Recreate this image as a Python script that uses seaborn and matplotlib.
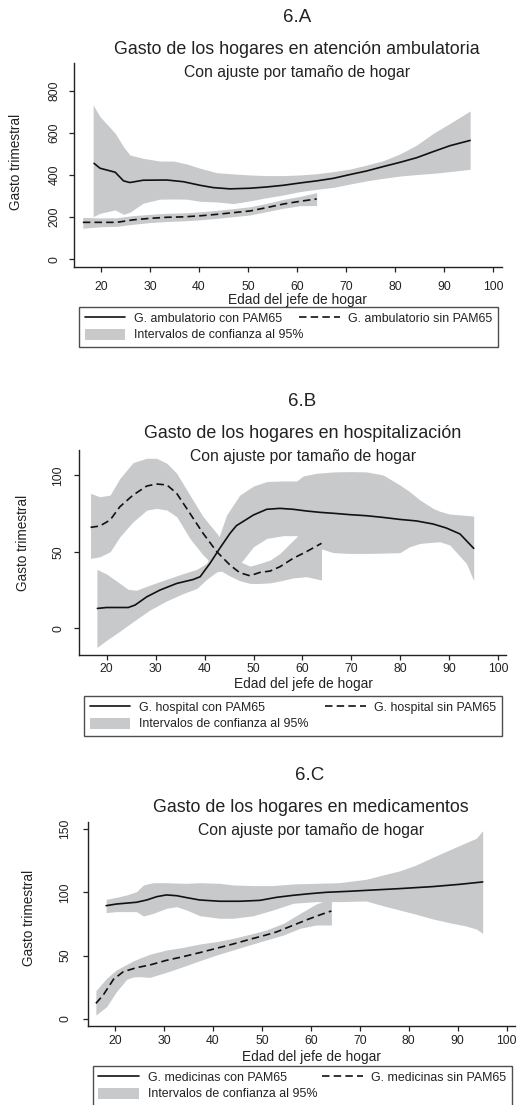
import numpy as np
import matplotlib
matplotlib.use("Agg")
import matplotlib.pyplot as plt
import seaborn as sns
from matplotlib.lines import Line2D
from matplotlib.patches import Patch

sns.set_style("ticks")
plt.rcParams['font.family'] = ['Liberation Sans', 'DejaVu Sans']

# ---------------- Panel A: ambulatoria ----------------
a_con_x = [18.6, 19.8, 22.9, 24.6, 25.9, 28.6, 33.4, 36.8, 40.2, 42.9, 46.3, 50.4, 53.8, 57.2,
           60.6, 64.0, 67.4, 70.8, 74.2, 77.6, 81.0, 84.4, 87.8, 91.2, 95.3]
a_con_y = [455, 432, 413, 372, 364, 375, 376, 368, 351, 340, 334, 337, 343, 351,
           362, 372, 384, 402, 419, 440, 460, 482, 511, 539, 564]
a_con_ci_x = [18.4, 19.8, 22.9, 24.6, 25.9, 28.6, 32.0, 34.8, 37.5, 40.2, 43.6, 47.0, 50.4, 53.8,
              57.2, 60.6, 64.0, 67.4, 70.8, 74.2, 77.6, 81.0, 84.4, 87.8, 91.2, 95.3]
a_con_hi = [732, 677, 598, 534, 495, 479, 466, 466, 452, 432, 411, 405, 400, 397,
            397, 400, 406, 416, 428, 447, 468, 500, 542, 598, 645, 704]
a_con_lo = [202, 218, 234, 213, 223, 266, 285, 286, 285, 275, 272, 264, 277, 292,
            305, 321, 332, 341, 357, 372, 384, 395, 402, 408, 416, 427]
a_sin_x = [16.3, 19.8, 23.2, 26.6, 30.0, 33.4, 36.8, 40.2, 43.6, 47.0, 50.4, 53.8, 57.2, 60.6, 64.0]
a_sin_y = [175, 175, 175, 187, 194, 199, 201, 206, 213, 221, 229, 245, 262, 275, 286]
a_sin_hi = [199, 196, 197, 207, 213, 218, 220, 225, 232, 240, 249, 265, 284, 298, 316]
a_sin_lo = [147, 154, 156, 166, 174, 179, 182, 187, 194, 202, 210, 226, 242, 254, 255]

# ---------------- Panel B: hospitalización ----------------
b_con_x = [18.1, 20.0, 24.4, 25.8, 28.2, 30.9, 34.3, 37.7, 39.1, 41.1, 43.1, 45.2, 46.5, 50.0,
           52.7, 55.4, 58.1, 60.8, 63.6, 66.3, 69.7, 73.1, 76.5, 79.9, 83.3, 86.7, 89.4, 92.2, 95.0]
b_con_y = [13.1, 13.7, 13.7, 15.3, 20.7, 25.1, 29.4, 32.0, 33.8, 42.5, 52.3, 62.1, 67.1, 74.1,
           77.8, 78.4, 77.8, 76.7, 75.8, 75.2, 74.3, 73.6, 72.5, 71.2, 70.2, 68.2, 65.6, 61.7, 52.3]
b_con_ci_x = [18.0, 20.0, 22.0, 24.4, 26.1, 28.8, 32.3, 35.7, 38.4, 40.4, 42.5, 44.5, 47.2, 50.0,
              52.7, 56.1, 58.8, 60.2, 62.9, 66.3, 69.7, 73.1, 76.5, 79.9, 81.9, 84.0, 86.7,
              88.1, 90.1, 93.5, 95.0]
b_con_hi = [38.6, 35.5, 31.0, 25.5, 25.0, 28.3, 32.2, 35.9, 38.6, 42.5, 55.6, 74.1, 87.1, 93.0,
            95.9, 96.3, 96.3, 99.6, 101.3, 102.2, 102.4, 102.2, 100.2, 93.7, 89.3, 83.9, 78.4,
            76.5, 74.7, 73.8, 73.4]
b_con_lo = [-12.4, -7.6, -3.3, 2.2, 6.0, 12.0, 18.1, 22.9, 26.1, 32.0, 37.0, 38.1, 42.0, 53.4,
            58.8, 60.6, 60.6, 58.0, 53.0, 49.5, 49.0, 49.0, 49.2, 49.5, 53.4, 55.5, 56.3,
            56.6, 54.5, 42.5, 31.2]
b_sin_x = [16.7, 18.6, 20.7, 22.7, 25.4, 28.2, 30.2, 32.3, 34.3, 37.0, 39.7, 42.5, 45.2, 47.2,
           49.3, 51.3, 53.4, 55.4, 58.1, 60.8, 63.9]
b_sin_y = [66.0, 66.9, 70.8, 79.5, 87.1, 93.0, 94.3, 93.7, 88.2, 75.2, 62.1, 50.1, 41.4, 36.4,
           34.4, 36.6, 37.5, 40.3, 45.8, 50.1, 55.6]
b_sin_hi = [88.2, 86.0, 87.1, 98.0, 108.3, 111.1, 111.1, 107.8, 101.3, 87.1, 73.0, 62.1, 50.1, 43.6,
            40.7, 42.5, 44.7, 49.0, 57.5, 66.0, 78.4]
b_sin_lo = [45.8, 46.8, 50.1, 59.9, 69.7, 77.3, 78.4, 77.3, 73.0, 58.8, 47.9, 39.2, 34.2, 31.2,
            29.4, 29.4, 29.8, 31.0, 33.0, 33.8, 31.6]

# ---------------- Panel C: medicamentos ----------------
c_con_x = [18.2, 20.3, 24.4, 26.5, 28.5, 30.5, 32.6, 34.6, 37.3, 41.4, 45.5, 49.6, 53.0, 56.4,
           59.8, 63.2, 67.9, 72.7, 78.1, 84.9, 90.4, 95.1]
c_con_y = [89.5, 90.8, 92.2, 94.0, 96.6, 98.0, 97.4, 95.9, 94.0, 93.0, 93.0, 93.7, 96.1, 97.7,
           99.0, 100.1, 100.9, 101.9, 103.0, 104.6, 106.4, 108.3]
c_con_ci_x = [18.2, 20.3, 22.4, 24.4, 25.8, 27.8, 30.5, 32.6, 34.6, 37.3, 41.4, 44.1, 48.2, 52.2,
              56.4, 61.1, 65.8, 71.3, 74.7, 78.1, 81.5, 84.9, 88.3, 91.7, 93.8, 95.1]
c_con_hi = [94.5, 96.1, 98.0, 100.6, 105.9, 107.7, 107.7, 107.4, 107.2, 107.7, 107.2, 105.9, 105.4,
            105.4, 106.7, 107.2, 107.7, 110.4, 113.8, 117.0, 121.7, 127.8, 133.6, 139.4, 142.9, 148.9]
c_con_lo = [84.0, 84.8, 84.8, 84.8, 81.3, 83.4, 87.4, 88.7, 86.1, 81.6, 79.5, 79.5, 81.5, 86.0,
            91.4, 92.7, 92.7, 93.2, 89.5, 86.1, 82.7, 79.0, 76.0, 73.4, 71.0, 67.6]
c_sin_x = [16.1, 17.6, 19.7, 21.7, 24.4, 27.1, 30.5, 33.9, 37.3, 40.7, 44.1, 47.5, 50.9, 53.0,
           55.7, 59.1, 61.8, 64.2]
c_sin_y = [12.1, 18.7, 31.2, 37.2, 40.4, 42.5, 46.2, 49.1, 52.3, 55.7, 59.1, 62.8, 66.3, 68.7,
           72.9, 78.2, 82.1, 85.3]
c_sin_ci_x = [16.1, 18.3, 20.3, 22.4, 23.7, 25.1, 27.1, 30.5, 33.9, 37.3, 40.7, 44.1, 47.5, 50.9,
              54.4, 57.8, 61.1, 64.2]
c_sin_hi = [22.2, 32.0, 38.6, 43.0, 45.7, 48.0, 51.0, 54.4, 56.5, 59.1, 61.0, 63.6, 66.8, 70.2,
            75.5, 83.4, 90.8, 95.3]
c_sin_lo = [2.9, 9.5, 21.4, 31.2, 33.0, 33.3, 32.7, 36.7, 41.2, 45.9, 50.4, 54.4, 58.4, 62.3,
            66.3, 71.6, 74.2, 74.2]

x_ticks = [20, 30, 40, 50, 60, 70, 80, 90, 100]

W, H = 518, 1105
fig = plt.figure(figsize=(W / 100, H / 100), dpi=100)

FILL = '#c8c9cb'
TXT = '#222222'
DASH = (0, (4.5, 2.5))


def add_ax(left, top, right, bottom):
    return fig.add_axes([left / W, 1 - bottom / H, (right - left) / W, (bottom - top) / H])


def ftext(x, y, s, size, **kw):
    fig.text(x / W, 1 - y / H, s, ha='center', va='center', fontsize=size, color=TXT, **kw)


def style_ax(ax, xlim, ylim, yticks, xpad, ypad):
    ax.set_xlim(*xlim)
    ax.set_ylim(*ylim)
    ax.set_xticks(x_ticks)
    ax.set_yticks(yticks)
    sns.despine(ax=ax)
    for sp in ['left', 'bottom']:
        ax.spines[sp].set_color('#222222')
        ax.spines[sp].set_linewidth(1.0)
    ax.tick_params(axis='both', length=3.8, width=0.9, color='#222222', labelsize=8.8,
                   labelcolor=TXT, direction='out')
    ax.tick_params(axis='x', pad=xpad)
    ax.tick_params(axis='y', pad=ypad)
    for lab in ax.get_yticklabels():
        lab.set_rotation(90)
        lab.set_va('center')
        lab.set_ha('right')
    ax.set_xlabel('')
    ax.set_ylabel('')
    ax.grid(False)


def draw_panel(ax, con_x, con_y, ci_x, ci_lo, ci_hi, sin_x, sin_y, sin_ci_x, sin_lo, sin_hi):
    ax.fill_between(ci_x, ci_lo, ci_hi, color=FILL, lw=0, zorder=1)
    ax.fill_between(sin_ci_x, sin_lo, sin_hi, color=FILL, lw=0, zorder=1)
    sns.lineplot(x=con_x, y=con_y, ax=ax, color='#111111', lw=1.2, zorder=3)
    sns.lineplot(x=sin_x, y=sin_y, ax=ax, color='#111111', lw=1.2, zorder=3, linestyle=DASH)


def add_legend(left, top, right, bottom, lab_con, lab_sin):
    handles = [Line2D([], [], color='#111111', lw=1.2),
               Patch(facecolor=FILL, edgecolor='none'),
               Line2D([], [], color='#111111', lw=1.2, linestyle=DASH)]
    labels = [lab_con, 'Intervalos de confianza al 95%', lab_sin]
    leg = fig.legend(handles, labels, loc='upper left', ncol=2, mode='expand',
                     bbox_to_anchor=(left / W, 1 - bottom / H, (right - left) / W, (bottom - top) / H),
                     borderaxespad=0, frameon=True, fancybox=False, fontsize=8.9,
                     handlelength=3.3, handleheight=0.95, handletextpad=0.7,
                     labelspacing=0.3, borderpad=0.45, columnspacing=1.0)
    fr = leg.get_frame()
    fr.set_edgecolor('#222222')
    fr.set_linewidth(1.0)
    for t in leg.get_texts():
        t.set_color(TXT)


# Panel A
axA = add_ax(74, 62.7, 502, 267)
draw_panel(axA, a_con_x, a_con_y, a_con_ci_x, a_con_lo, a_con_hi,
           a_sin_x, a_sin_y, a_sin_x, a_sin_lo, a_sin_hi)
style_ax(axA, (14.5, 101.8), (-37, 933), [0, 200, 400, 600, 800], xpad=6.5, ypad=6)
ftext(297, 18, '6.A', 13.5)
ftext(297, 50, 'Gasto de los hogares en atención ambulatoria', 12.9)
ftext(297, 73, 'Con ajuste por tamaño de hogar', 11.3)
ftext(297, 300, 'Edad del jefe de hogar', 9.9)
ftext(16, 162, 'Gasto trimestral', 9.8, rotation=90)
add_legend(79, 307, 498, 348, 'G. ambulatorio con PAM65', 'G. ambulatorio sin PAM65')

# Panel B
axB = add_ax(79.3, 450, 506, 655)
draw_panel(axB, b_con_x, b_con_y, b_con_ci_x, b_con_lo, b_con_hi,
           b_sin_x, b_sin_y, b_sin_x, b_sin_lo, b_sin_hi)
style_ax(axB, (14.4, 101.6), (-17.3, 116.5), [0, 50, 100], xpad=1.8, ypad=7)
ftext(302, 402, '6.B', 13.5)
ftext(303, 434, 'Gasto de los hogares en hospitalización', 12.9)
ftext(303, 456, 'Con ajuste por tamaño de hogar', 11.3)
ftext(303, 684, 'Edad del jefe de hogar', 9.9)
ftext(23, 543, 'Gasto trimestral', 9.8, rotation=90)
add_legend(84, 696, 502, 736, 'G. hospital con PAM65', 'G. hospital sin PAM65')

# Panel C
axC = add_ax(87.7, 821.7, 515, 1026)
draw_panel(axC, c_con_x, c_con_y, c_con_ci_x, c_con_lo, c_con_hi,
           c_sin_x, c_sin_y, c_sin_ci_x, c_sin_lo, c_sin_hi)
style_ax(axC, (14.43, 101.7), (-5.8, 156), [0, 50, 100, 150], xpad=2.5, ypad=8)
ftext(310, 776, '6.C', 13.5)
ftext(311, 807, 'Gasto de los hogares en medicamentos', 12.9)
ftext(311, 830, 'Con ajuste por tamaño de hogar', 11.3)
ftext(311, 1057, 'Edad del jefe de hogar', 9.9)
ftext(29, 918, 'Gasto trimestral', 9.8, rotation=90)
add_legend(92.7, 1066, 512, 1107, 'G. medicinas con PAM65', 'G. medicinas sin PAM65')

fig.savefig('out.png', dpi=100, facecolor='white')
